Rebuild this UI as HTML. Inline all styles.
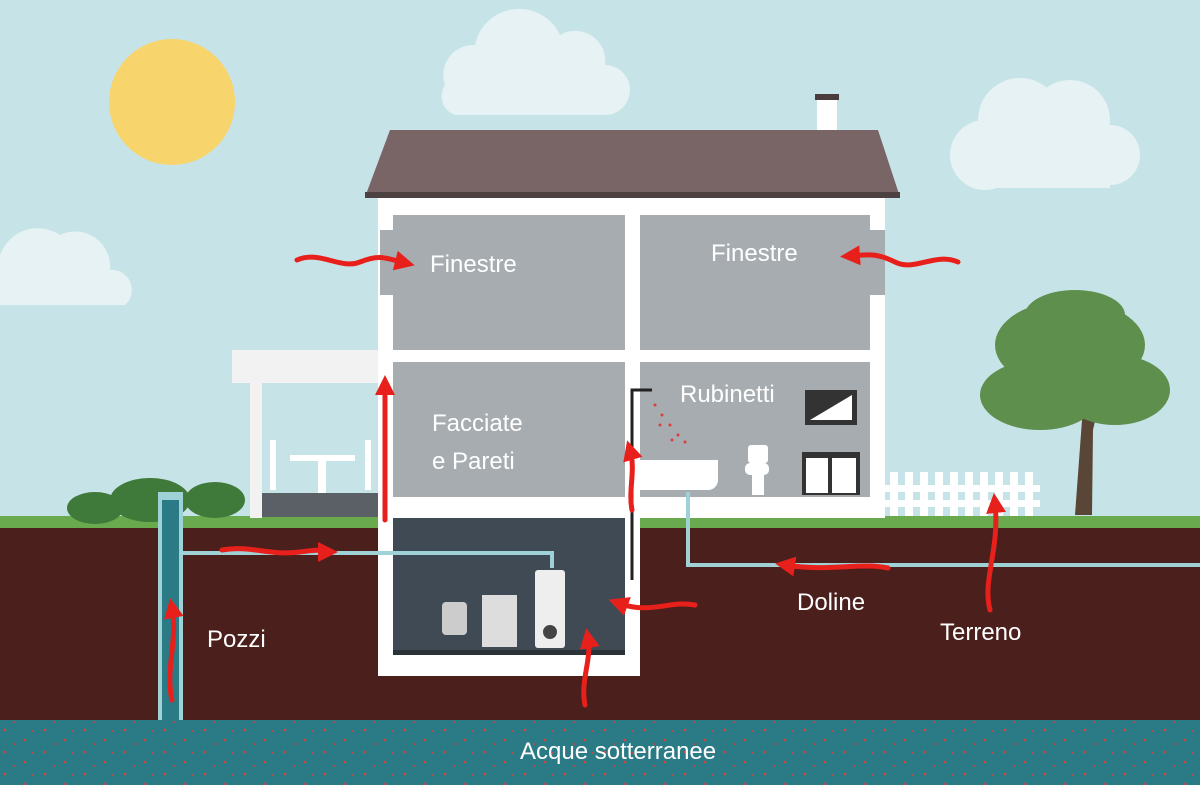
<!DOCTYPE html>
<html><head><meta charset="utf-8"><style>
html,body{margin:0;padding:0;width:1200px;height:785px;overflow:hidden;background:#c6e4e7}
svg{display:block}
text{font-family:"Liberation Sans",sans-serif;fill:#fff}
</style></head><body>
<svg width="1200" height="785" viewBox="0 0 1200 785" xmlns="http://www.w3.org/2000/svg">
<defs>
<marker id="ah" markerWidth="4" markerHeight="4" refX="2" refY="2" orient="auto" markerUnits="strokeWidth">
<path d="M0,0 L4,2 L0,4 Z" fill="#e8201c"/></marker>
<pattern id="dots" width="40" height="22" patternUnits="userSpaceOnUse">
<rect width="40" height="22" fill="#2b7b86"/>
<circle cx="5" cy="4" r="1.3" fill="#d9403a"/><circle cx="25" cy="14" r="1.3" fill="#d9403a"/><circle cx="33" cy="5" r="1" fill="#d9403a"/><circle cx="14" cy="18" r="1" fill="#d9403a"/></pattern>
</defs>
<rect width="1200" height="520" fill="#c6e4e7"/>
<circle cx="172" cy="102" r="63" fill="#f8d46c"/>
<g fill="#e6f2f3">
<path d="M445,85 a30,30 0 0 1 30,-40 a45,45 0 0 1 85,-10 a30,30 0 0 1 45,30 a25,25 0 0 1 0,50 h-150 a20,20 0 0 1 -10,-30z"/>
<circle cx="985" cy="155" r="35"/><circle cx="1020" cy="120" r="42"/><circle cx="1070" cy="120" r="40"/><circle cx="1110" cy="155" r="30"/><rect x="985" y="150" width="125" height="38"/>
<path d="M0,305 v-50 a40,40 0 0 1 60,-20 a35,35 0 0 1 50,35 a20,20 0 0 1 15,35 z"/>
</g>
<rect y="516" width="1200" height="14" fill="#6aaa4e"/>
<rect y="528" width="1200" height="194" fill="#4a1f1c"/>
<rect y="720" width="1200" height="65" fill="url(#dots)"/>
<g fill="#3f7a3a"><ellipse cx="95" cy="508" rx="28" ry="16"/><ellipse cx="150" cy="500" rx="40" ry="22"/><ellipse cx="215" cy="500" rx="30" ry="18"/></g>
<rect x="232" y="350" width="150" height="33" fill="#f2f2f2"/>
<rect x="250" y="383" width="12" height="135" fill="#f2f2f2"/>
<rect x="262" y="493" width="120" height="24" fill="#5b5f66"/>
<rect x="290" y="455" width="65" height="6" fill="#fff"/><rect x="318" y="461" width="8" height="32" fill="#fff"/>
<rect x="270" y="440" width="6" height="50" fill="#fff"/><rect x="365" y="440" width="6" height="50" fill="#fff"/>
<path d="M1075,515 L1082,420 L1060,380 L1070,378 L1088,405 L1100,370 L1106,372 L1093,430 L1092,515z" fill="#5a4636"/>
<g fill="#5e8f4d"><ellipse cx="1070" cy="345" rx="75" ry="45"/><ellipse cx="1040" cy="395" rx="60" ry="35"/><ellipse cx="1115" cy="390" rx="55" ry="35"/><ellipse cx="1075" cy="315" rx="50" ry="25"/></g>
<g fill="#fff"><rect x="885" y="485" width="155" height="7"/><rect x="885" y="500" width="155" height="7"/>
<rect x="890" y="472" width="8" height="44"/><rect x="905" y="472" width="8" height="44"/><rect x="920" y="472" width="8" height="44"/><rect x="935" y="472" width="8" height="44"/><rect x="950" y="472" width="8" height="44"/><rect x="965" y="472" width="8" height="44"/><rect x="980" y="472" width="8" height="44"/><rect x="995" y="472" width="8" height="44"/><rect x="1010" y="472" width="8" height="44"/><rect x="1025" y="472" width="8" height="44"/></g>
<rect x="817" y="95" width="20" height="40" fill="#fff"/><rect x="815" y="94" width="24" height="6" fill="#4a3c3d"/>
<polygon points="390,130 878,130 900,197 365,197" fill="#7a6566"/>
<rect x="365" y="192" width="535" height="6" fill="#4e4142"/>
<rect x="378" y="198" width="507" height="320" fill="#fff"/>
<rect x="378" y="518" width="262" height="158" fill="#fff"/>
<g fill="#a7acb0">
<rect x="393" y="215" width="232" height="135"/><rect x="380" y="230" width="20" height="65"/>
<rect x="640" y="215" width="230" height="135"/><rect x="865" y="230" width="20" height="65"/>
<rect x="393" y="362" width="232" height="135"/>
<rect x="640" y="362" width="230" height="135"/>
</g>
<rect x="393" y="518" width="232" height="132" fill="#3f4a55"/>
<rect x="393" y="650" width="232" height="5" fill="#2b3238"/>
<rect x="535" y="570" width="30" height="78" rx="3" fill="#eee"/><circle cx="550" cy="632" r="7" fill="#444"/>
<rect x="482" y="595" width="35" height="52" fill="#ddd"/><rect x="442" y="602" width="25" height="33" rx="4" fill="#ccc"/>
<rect x="805" y="390" width="52" height="35" fill="#333"/><polygon points="810,420 852,395 852,420" fill="#fff"/>
<rect x="802" y="452" width="58" height="43" fill="#333"/><rect x="806" y="458" width="22" height="35" fill="#fff"/><rect x="832" y="458" width="24" height="35" fill="#fff"/>
<rect x="748" y="445" width="20" height="18" rx="3" fill="#fff"/><rect x="745" y="463" width="24" height="12" rx="5" fill="#fff"/><rect x="752" y="475" width="12" height="20" fill="#fff"/>
<path d="M640,460 h78 v20 a10,10 0 0 1 -10,10 h-68z" fill="#fff"/>
<path d="M632,580 V390 h20" stroke="#222" stroke-width="3" fill="none"/>
<g fill="#d9403a"><circle cx="655" cy="405" r="1.5"/><circle cx="662" cy="415" r="1.5"/><circle cx="670" cy="425" r="1.5"/><circle cx="678" cy="435" r="1.5"/><circle cx="685" cy="442" r="1.5"/><circle cx="660" cy="425" r="1.5"/><circle cx="672" cy="440" r="1.5"/></g>
<path d="M183,553 H552 V568" stroke="#9fd2d6" stroke-width="4" fill="none"/>
<path d="M688,492 V565 H1200" stroke="#9fd2d6" stroke-width="4" fill="none"/>
<rect x="158" y="492" width="25" height="228" fill="#9fd2d6"/><rect x="162" y="500" width="17" height="220" fill="#2b7b86"/>
<g stroke="#e8201c" stroke-width="5" fill="none" stroke-linecap="round">
<path d="M297,260 C320,250 340,270 360,262 S385,258 405,263" marker-end="url(#ah)"/>
<path d="M958,262 C935,252 915,272 895,262 S865,255 850,256" marker-end="url(#ah)"/>
<path d="M385,520 V385" marker-end="url(#ah)"/>
<path d="M632,510 C628,490 636,470 630,450" marker-end="url(#ah)"/>
<path d="M222,550 C250,545 270,556 300,552 S315,552 328,552" marker-end="url(#ah)"/>
<path d="M172,700 C165,670 178,640 172,608" marker-end="url(#ah)"/>
<path d="M585,705 C580,680 592,660 588,638" marker-end="url(#ah)"/>
<path d="M695,605 C670,600 650,615 618,603" marker-end="url(#ah)"/>
<path d="M888,568 C860,562 830,572 785,565" marker-end="url(#ah)"/>
<path d="M990,610 C982,580 1000,550 995,503" marker-end="url(#ah)"/>
</g>
<text x="430" y="272" font-size="24">Finestre</text>
<text x="711" y="261" font-size="24">Finestre</text>
<text x="680" y="402" font-size="24">Rubinetti</text>
<text x="432" y="431" font-size="24">Facciate</text>
<text x="432" y="469" font-size="24">e Pareti</text>
<text x="207" y="647" font-size="24">Pozzi</text>
<text x="797" y="610" font-size="24">Doline</text>
<text x="940" y="640" font-size="24">Terreno</text>
<text x="520" y="759" font-size="24">Acque sotterranee</text>
</svg>
</body></html>
